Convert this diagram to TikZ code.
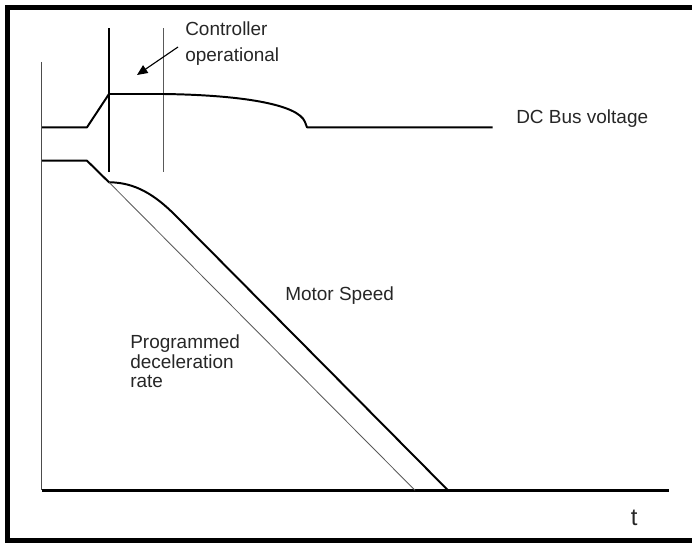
\documentclass[tikz,border=0pt]{standalone}
\usepackage{fontspec}
\setmainfont{Liberation Sans}
\usetikzlibrary{arrows.meta,positioning}
\tikzset{
  frameline/.style={line width=3.6pt,black},
  heavy/.style={line width=1.4pt,black,line join=round},
  light/.style={line width=0.6pt,black!65},
  lbl/.style={inner sep=0pt,anchor=base west,align=left,text=black!85},
}
\begin{document}
\begin{tikzpicture}[x=0.025cm,y=-0.025cm]
\useasboundingbox (0,0) rectangle (692,543);
\begin{scope}
\clip (0,0) rectangle (692,543);
\draw[frameline] (7.5,541) rectangle (760,7.5);
\end{scope}
% axes
\draw[line width=1pt,black!70] (41.7,62) -- (41.7,490.3);
\draw[line width=2.1pt,black] (41.7,490.3) -- (668.7,490.3);
% markers
\draw[heavy] (109,28.3) -- (109,171.7);
\draw[light] (163.3,28.3) -- (163.3,171.7);
% DC bus voltage
\draw[heavy] (42,127.3) -- (87,127.3) -- (109,94) -- (163,94)
  .. controls (240,95) and (298,104) .. (305,122) -- (307,127.3) -- (492.7,127.3);
% motor speed
\draw[heavy] (42,160.7) -- (87,160.7) -- (109,182.3)
  .. controls (135,182.3) and (155,195) .. (175,215) -- (448,490.3);
\draw[light] (109,182.3) -- (415,490.3);
% labels (base = last line)
\node[lbl,font=\fontsize{13.5}{18.5}\selectfont] (ctrl) at (185,62) {Controller\\operational};
\node[lbl,font=\fontsize{13.5}{16}\selectfont] (dcbus) at (516,124) {DC Bus voltage};
\node[lbl,font=\fontsize{13.5}{16}\selectfont] (speed) at (285,301) {Motor Speed};
\node[lbl,font=\fontsize{13.5}{14.2}\selectfont] (progdec) at (130,388) {Programmed\\deceleration\\rate};
\node[lbl,font=\fontsize{17}{20}\selectfont] (taxis) at (630.5,526) {t};
\coordinate (arrtail) at (178,47);
\coordinate (arrtip) at (137,75);
\draw[line width=0.8pt,black,-{Triangle[length=7.5pt,width=6.5pt]}] (arrtail) -- (arrtip);
\end{tikzpicture}
\end{document}
